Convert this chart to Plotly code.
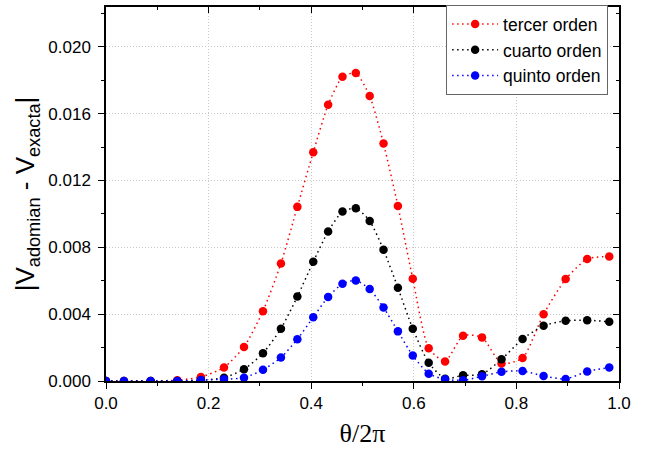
import plotly.graph_objects as go

theta = [0.0, 0.035, 0.087, 0.139, 0.185, 0.230, 0.269, 0.306, 0.341, 0.373,
         0.404, 0.433, 0.461, 0.487, 0.514, 0.541, 0.569, 0.598, 0.629, 0.661,
         0.696, 0.733, 0.771, 0.812, 0.853, 0.896, 0.938, 0.981]

tercer = [0.0, 0.0, 0.0, 0.00005, 0.00024, 0.00081, 0.00204, 0.00418, 0.00703, 0.01042,
          0.01369, 0.01653, 0.0182, 0.01843, 0.01705, 0.01421, 0.01047, 0.00612, 0.00196, 0.00117,
          0.00271, 0.00261, 0.00105, 0.00137, 0.0040, 0.0061, 0.0073, 0.00745]

cuarto = [0.0, 0.0, 0.0, 0.0, 0.00004, 0.0002, 0.0007, 0.00166, 0.00313, 0.00505,
          0.00713, 0.00895, 0.01014, 0.01034, 0.00958, 0.00785, 0.00558, 0.00313, 0.00109, 0.00014,
          0.00034, 0.0004, 0.0013, 0.00251, 0.00331, 0.0036, 0.00364, 0.00354]

quinto = [0.0, 0.0, 0.0, 0.0, 0.00006, 0.0001, 0.0002, 0.00067, 0.0014, 0.0025,
          0.00382, 0.00503, 0.00582, 0.00602, 0.0055, 0.0044, 0.00297, 0.00152, 0.00044, 0.0001,
          0.00004, 0.00028, 0.00055, 0.0006, 0.0003, 0.00012, 0.00057, 0.00081]

names = ["tercer orden", "cuarto orden", "quinto orden"]
colors = ["#ff0000", "#000000", "#0000ff"]
series = [tercer, cuarto, quinto]

x_ticks = [0.0, 0.2, 0.4, 0.6, 0.8, 1.0]
x_ticklabels = ["0.0", "0.2", "0.4", "0.6", "0.8", "1.0"]
y_ticks = [0.0, 0.004, 0.008, 0.012, 0.016, 0.020]
y_ticklabels = ["0.000", "0.004", "0.008", "0.012", "0.016", "0.020"]

fig = go.Figure()
for name, col, vals in zip(names, colors, series):
    fig.add_trace(go.Scatter(
        x=theta, y=vals, name=name, mode="lines+markers",
        line=dict(color=col, width=1.5, dash="1.5px,3.5px", shape="spline", smoothing=0.6),
        marker=dict(color=col, size=8.5),
    ))

sans = "Liberation Sans, Arial, sans-serif"
tickfont = dict(family=sans, size=17, color="black")
grid_dash = "1px,2px"
grid_col = "#c8c8c8"

fig.update_layout(
    width=655, height=460,
    margin=dict(l=106, r=36, t=5, b=79),
    paper_bgcolor="white", plot_bgcolor="white",
    showlegend=True,
    legend=dict(
        x=0.663, y=1.005, xanchor="left", yanchor="top",
        bgcolor="white", bordercolor="#666666", borderwidth=1,
        font=dict(family=sans, size=17.5, color="black"),
        tracegroupgap=0, itemwidth=46,
    ),
    xaxis=dict(
        range=[0, 1], tickvals=x_ticks, ticktext=x_ticklabels,
        ticks="outside", ticklen=6, tickwidth=1.2, tickcolor="black",
        minor=dict(dtick=0.1, ticks="outside", ticklen=3, tickcolor="black", showgrid=False),
        showline=True, linecolor="black", linewidth=1.5,
        showgrid=True, gridcolor=grid_col, griddash=grid_dash, gridwidth=1,
        zeroline=False, tickfont=tickfont,
        title=dict(text="θ/2π", font=dict(family="Liberation Serif, Times New Roman, serif", size=26, color="black"), standoff=12),
    ),
    yaxis=dict(
        range=[0, 0.02238], tickvals=y_ticks, ticktext=y_ticklabels,
        ticks="outside", ticklen=6, tickwidth=1.2, tickcolor="black",
        minor=dict(dtick=0.002, ticks="outside", ticklen=3, tickcolor="black", showgrid=False),
        showline=True, linecolor="black", linewidth=1.5,
        showgrid=True, gridcolor=grid_col, griddash=grid_dash, gridwidth=1,
        zeroline=False, tickfont=tickfont, ticklabelstandoff=4,
        title=dict(text="|V<sub>adomian</sub> - V<sub>exacta</sub>|",
                   font=dict(family=sans, size=26, color="black"), standoff=6),
    ),
    xaxis2=dict(
        overlaying="x", side="top", range=[0, 1], tickvals=x_ticks,
        showticklabels=False, ticks="inside", ticklen=6, tickwidth=1.2, tickcolor="black",
        minor=dict(dtick=0.1, ticks="inside", ticklen=3, tickcolor="black"),
        showline=True, linecolor="black", linewidth=1.5, showgrid=False, zeroline=False,
    ),
    yaxis2=dict(
        overlaying="y", side="right", range=[0, 0.02238], tickvals=y_ticks,
        showticklabels=False, ticks="inside", ticklen=6, tickwidth=1.2, tickcolor="black",
        minor=dict(dtick=0.002, ticks="inside", ticklen=3, tickcolor="black"),
        showline=True, linecolor="black", linewidth=1.5, showgrid=False, zeroline=False,
    ),
)

# invisible trace to activate the mirrored top/right axes
fig.add_trace(go.Scatter(x=[0], y=[0], xaxis="x2", yaxis="y2", mode="markers",
                         marker=dict(opacity=0), showlegend=False, hoverinfo="skip"))

fig.write_html("out.html", config={"displayModeBar": False},
               post_script="document.body.style.margin='0px';")
